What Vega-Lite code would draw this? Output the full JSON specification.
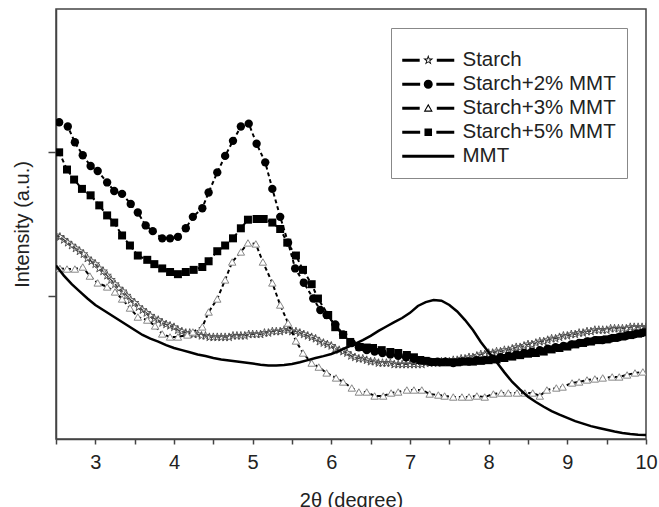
{
  "$schema": "https://vega.github.io/schema/vega-lite/v6.json",
  "width": 590,
  "height": 430,
  "autosize": {"type": "none"},
  "padding": {"left": 56, "top": 9, "right": 13, "bottom": 68},
  "background": "white",
  "config": {
    "view": {"stroke": "#444", "strokeWidth": 1.5},
    "axis": {
      "domainColor": "#444", "domainWidth": 1.5, "tickColor": "#444", "tickWidth": 1.5,
      "labelFont": "Liberation Sans", "labelFontSize": 20, "labelColor": "#222",
      "titleFont": "Liberation Sans", "titleFontSize": 20, "titleFontWeight": "normal", "titleColor": "#222",
      "grid": false
    }
  },
  "datasets": {
    "starch": [
      {"x":2.50,"y":1.42},{"x":2.55,"y":1.41},{"x":2.60,"y":1.39},{"x":2.65,"y":1.37},{"x":2.70,"y":1.35},{"x":2.75,"y":1.33},{"x":2.80,"y":1.31},{"x":2.85,"y":1.29},{"x":2.90,"y":1.26},{"x":2.95,"y":1.24},
      {"x":3.00,"y":1.22},{"x":3.05,"y":1.19},{"x":3.10,"y":1.17},{"x":3.15,"y":1.14},{"x":3.20,"y":1.11},{"x":3.25,"y":1.08},{"x":3.30,"y":1.05},{"x":3.35,"y":1.03},{"x":3.40,"y":1.00},{"x":3.45,"y":0.97},
      {"x":3.50,"y":0.95},{"x":3.55,"y":0.92},{"x":3.60,"y":0.90},{"x":3.65,"y":0.88},{"x":3.70,"y":0.86},{"x":3.75,"y":0.84},{"x":3.80,"y":0.83},{"x":3.85,"y":0.81},{"x":3.90,"y":0.80},{"x":3.95,"y":0.79},
      {"x":4.00,"y":0.78},{"x":4.05,"y":0.76},{"x":4.10,"y":0.75},{"x":4.15,"y":0.74},{"x":4.20,"y":0.74},{"x":4.25,"y":0.73},{"x":4.30,"y":0.73},{"x":4.35,"y":0.72},{"x":4.40,"y":0.72},{"x":4.45,"y":0.71},
      {"x":4.50,"y":0.71},{"x":4.55,"y":0.71},{"x":4.60,"y":0.71},{"x":4.65,"y":0.71},{"x":4.70,"y":0.71},{"x":4.75,"y":0.72},{"x":4.80,"y":0.72},{"x":4.85,"y":0.72},{"x":4.90,"y":0.72},{"x":4.95,"y":0.73},
      {"x":5.00,"y":0.73},{"x":5.05,"y":0.73},{"x":5.10,"y":0.73},{"x":5.15,"y":0.74},{"x":5.20,"y":0.74},{"x":5.25,"y":0.75},{"x":5.30,"y":0.75},{"x":5.35,"y":0.75},{"x":5.40,"y":0.76},{"x":5.45,"y":0.76},
      {"x":5.50,"y":0.75},{"x":5.55,"y":0.75},{"x":5.60,"y":0.74},{"x":5.65,"y":0.73},{"x":5.70,"y":0.72},{"x":5.75,"y":0.71},{"x":5.80,"y":0.70},{"x":5.85,"y":0.68},{"x":5.90,"y":0.67},{"x":5.95,"y":0.66},
      {"x":6.00,"y":0.65},{"x":6.05,"y":0.63},{"x":6.10,"y":0.62},{"x":6.15,"y":0.61},{"x":6.20,"y":0.60},{"x":6.25,"y":0.58},{"x":6.30,"y":0.57},{"x":6.35,"y":0.56},{"x":6.40,"y":0.56},{"x":6.45,"y":0.55},
      {"x":6.50,"y":0.54},{"x":6.55,"y":0.54},{"x":6.60,"y":0.53},{"x":6.65,"y":0.53},{"x":6.70,"y":0.53},{"x":6.75,"y":0.53},{"x":6.80,"y":0.52},{"x":6.85,"y":0.52},{"x":6.90,"y":0.52},{"x":6.95,"y":0.52},
      {"x":7.00,"y":0.52},{"x":7.05,"y":0.52},{"x":7.10,"y":0.52},{"x":7.15,"y":0.52},{"x":7.20,"y":0.53},{"x":7.25,"y":0.53},{"x":7.30,"y":0.53},{"x":7.35,"y":0.53},{"x":7.40,"y":0.54},{"x":7.45,"y":0.54},
      {"x":7.50,"y":0.54},{"x":7.55,"y":0.55},{"x":7.60,"y":0.55},{"x":7.65,"y":0.56},{"x":7.70,"y":0.56},{"x":7.75,"y":0.57},{"x":7.80,"y":0.57},{"x":7.85,"y":0.58},{"x":7.90,"y":0.59},{"x":7.95,"y":0.59},
      {"x":8.00,"y":0.60},{"x":8.05,"y":0.60},{"x":8.10,"y":0.61},{"x":8.15,"y":0.61},{"x":8.20,"y":0.62},{"x":8.25,"y":0.62},{"x":8.30,"y":0.63},{"x":8.35,"y":0.64},{"x":8.40,"y":0.64},{"x":8.45,"y":0.65},
      {"x":8.50,"y":0.66},{"x":8.55,"y":0.66},{"x":8.60,"y":0.67},{"x":8.65,"y":0.68},{"x":8.70,"y":0.68},{"x":8.75,"y":0.69},{"x":8.80,"y":0.70},{"x":8.85,"y":0.70},{"x":8.90,"y":0.71},{"x":8.95,"y":0.72},
      {"x":9.00,"y":0.72},{"x":9.05,"y":0.73},{"x":9.10,"y":0.73},{"x":9.15,"y":0.74},{"x":9.20,"y":0.74},{"x":9.25,"y":0.75},{"x":9.30,"y":0.75},{"x":9.35,"y":0.76},{"x":9.40,"y":0.76},{"x":9.45,"y":0.76},
      {"x":9.50,"y":0.76},{"x":9.55,"y":0.77},{"x":9.60,"y":0.77},{"x":9.65,"y":0.77},{"x":9.70,"y":0.77},{"x":9.75,"y":0.77},{"x":9.80,"y":0.78},{"x":9.85,"y":0.78},{"x":9.90,"y":0.78},{"x":9.95,"y":0.78},
      {"x":10.00,"y":0.78}
    ],
    "mmt2": [
      {"x":2.54,"y":2.21},{"x":2.65,"y":2.18},{"x":2.74,"y":2.07},{"x":2.84,"y":1.98},{"x":2.94,"y":1.905},{"x":3.03,"y":1.87},{"x":3.15,"y":1.79},{"x":3.24,"y":1.73},{"x":3.34,"y":1.71},{"x":3.45,"y":1.64},
      {"x":3.54,"y":1.58},{"x":3.64,"y":1.49},{"x":3.73,"y":1.45},{"x":3.85,"y":1.40},{"x":3.95,"y":1.40},{"x":4.05,"y":1.41},{"x":4.15,"y":1.47},{"x":4.24,"y":1.55},{"x":4.36,"y":1.61},{"x":4.44,"y":1.72},
      {"x":4.55,"y":1.86},{"x":4.65,"y":1.975},{"x":4.75,"y":2.08},{"x":4.85,"y":2.18},{"x":4.95,"y":2.20},{"x":5.05,"y":2.06},{"x":5.16,"y":1.93},{"x":5.25,"y":1.745},{"x":5.35,"y":1.55},{"x":5.45,"y":1.37},
      {"x":5.54,"y":1.19},{"x":5.65,"y":1.09},{"x":5.77,"y":0.98},{"x":5.86,"y":0.90},{"x":5.94,"y":0.865},{"x":6.05,"y":0.80},{"x":6.15,"y":0.73},{"x":6.26,"y":0.67},{"x":6.35,"y":0.64},{"x":6.45,"y":0.62},
      {"x":6.55,"y":0.61},{"x":6.65,"y":0.60},{"x":6.75,"y":0.59},{"x":6.85,"y":0.58},{"x":6.95,"y":0.57},{"x":7.05,"y":0.56},{"x":7.15,"y":0.55},{"x":7.25,"y":0.54},{"x":7.35,"y":0.54},{"x":7.45,"y":0.54},
      {"x":7.55,"y":0.53},{"x":7.65,"y":0.54},{"x":7.75,"y":0.54},{"x":7.85,"y":0.55},{"x":7.95,"y":0.55},{"x":8.05,"y":0.56},{"x":8.15,"y":0.57},{"x":8.25,"y":0.58},{"x":8.35,"y":0.59},{"x":8.45,"y":0.60},
      {"x":8.55,"y":0.61},{"x":8.65,"y":0.62},{"x":8.75,"y":0.63},{"x":8.85,"y":0.64},{"x":8.95,"y":0.65},{"x":9.05,"y":0.66},{"x":9.15,"y":0.67},{"x":9.25,"y":0.68},{"x":9.35,"y":0.69},{"x":9.45,"y":0.69},
      {"x":9.55,"y":0.70},{"x":9.65,"y":0.71},{"x":9.75,"y":0.72},{"x":9.85,"y":0.73},{"x":9.95,"y":0.74}
    ],
    "mmt3": [
      {"x":2.55,"y":1.19},{"x":2.64,"y":1.186},{"x":2.74,"y":1.186},{"x":2.84,"y":1.20},{"x":2.93,"y":1.137},{"x":3.03,"y":1.089},{"x":3.15,"y":1.061},{"x":3.25,"y":1.026},{"x":3.34,"y":0.977},{"x":3.44,"y":0.914},
      {"x":3.54,"y":0.851},{"x":3.66,"y":0.83},{"x":3.76,"y":0.789},{"x":3.85,"y":0.733},{"x":3.95,"y":0.712},{"x":4.05,"y":0.712},{"x":4.17,"y":0.726},{"x":4.24,"y":0.747},{"x":4.36,"y":0.782},{"x":4.44,"y":0.886},
      {"x":4.55,"y":0.977},{"x":4.65,"y":1.11},{"x":4.74,"y":1.235},{"x":4.85,"y":1.305},{"x":4.94,"y":1.368},{"x":5.04,"y":1.361},{"x":5.13,"y":1.235},{"x":5.25,"y":1.089},{"x":5.35,"y":0.935},{"x":5.45,"y":0.809},
      {"x":5.55,"y":0.684},{"x":5.64,"y":0.60},{"x":5.75,"y":0.53},{"x":5.84,"y":0.502},{"x":5.94,"y":0.461},{"x":6.06,"y":0.426},{"x":6.15,"y":0.398},{"x":6.26,"y":0.356},{"x":6.35,"y":0.328},{"x":6.45,"y":0.328},
      {"x":6.55,"y":0.30},{"x":6.66,"y":0.30},{"x":6.76,"y":0.321},{"x":6.85,"y":0.328},{"x":6.96,"y":0.342},{"x":7.05,"y":0.342},{"x":7.15,"y":0.342},{"x":7.25,"y":0.314},{"x":7.36,"y":0.307},{"x":7.44,"y":0.30},
      {"x":7.55,"y":0.293},{"x":7.66,"y":0.293},{"x":7.75,"y":0.293},{"x":7.85,"y":0.30},{"x":7.95,"y":0.293},{"x":8.06,"y":0.314},{"x":8.16,"y":0.321},{"x":8.25,"y":0.321},{"x":8.36,"y":0.321},{"x":8.46,"y":0.321},
      {"x":8.56,"y":0.321},{"x":8.65,"y":0.30},{"x":8.74,"y":0.342},{"x":8.86,"y":0.356},{"x":8.94,"y":0.363},{"x":9.06,"y":0.391},{"x":9.15,"y":0.398},{"x":9.25,"y":0.412},{"x":9.35,"y":0.419},{"x":9.45,"y":0.426},
      {"x":9.57,"y":0.433},{"x":9.66,"y":0.433},{"x":9.76,"y":0.447},{"x":9.86,"y":0.461},{"x":9.96,"y":0.468}
    ],
    "mmt5": [
      {"x":2.54,"y":2.00},{"x":2.64,"y":1.88},{"x":2.73,"y":1.81},{"x":2.83,"y":1.745},{"x":2.94,"y":1.70},{"x":3.05,"y":1.63},{"x":3.15,"y":1.56},{"x":3.24,"y":1.51},{"x":3.34,"y":1.42},{"x":3.44,"y":1.35},
      {"x":3.54,"y":1.28},{"x":3.66,"y":1.25},{"x":3.75,"y":1.22},{"x":3.85,"y":1.19},{"x":3.95,"y":1.165},{"x":4.05,"y":1.15},{"x":4.15,"y":1.165},{"x":4.25,"y":1.18},{"x":4.36,"y":1.20},{"x":4.44,"y":1.24},
      {"x":4.55,"y":1.31},{"x":4.65,"y":1.35},{"x":4.75,"y":1.40},{"x":4.85,"y":1.47},{"x":4.94,"y":1.53},{"x":5.05,"y":1.535},{"x":5.14,"y":1.535},{"x":5.25,"y":1.51},{"x":5.35,"y":1.465},{"x":5.44,"y":1.37},
      {"x":5.55,"y":1.28},{"x":5.64,"y":1.18},{"x":5.75,"y":1.08},{"x":5.83,"y":0.98},{"x":5.96,"y":0.865},{"x":6.05,"y":0.78},{"x":6.15,"y":0.726},{"x":6.24,"y":0.677},{"x":6.36,"y":0.642},{"x":6.45,"y":0.638},
      {"x":6.53,"y":0.635},{"x":6.64,"y":0.62},{"x":6.75,"y":0.607},{"x":6.85,"y":0.60},{"x":6.96,"y":0.586},{"x":7.05,"y":0.57},{"x":7.13,"y":0.551},{"x":7.20,"y":0.545},{"x":7.29,"y":0.537},{"x":7.40,"y":0.535},
      {"x":7.50,"y":0.535},{"x":7.60,"y":0.535},{"x":7.70,"y":0.54},{"x":7.80,"y":0.54},{"x":7.90,"y":0.545},{"x":8.00,"y":0.55},{"x":8.10,"y":0.555},{"x":8.20,"y":0.565},{"x":8.30,"y":0.575},{"x":8.40,"y":0.585},
      {"x":8.50,"y":0.595},{"x":8.60,"y":0.60},{"x":8.70,"y":0.61},{"x":8.80,"y":0.625},{"x":8.90,"y":0.635},{"x":9.00,"y":0.645},{"x":9.10,"y":0.66},{"x":9.20,"y":0.67},{"x":9.30,"y":0.68},{"x":9.40,"y":0.69},
      {"x":9.50,"y":0.695},{"x":9.60,"y":0.705},{"x":9.70,"y":0.715},{"x":9.80,"y":0.725},{"x":9.90,"y":0.735},{"x":10.00,"y":0.745}
    ],
    "mmt": [
      {"x":2.5,"y":1.21},{"x":2.6,"y":1.14},{"x":2.7,"y":1.08},{"x":2.8,"y":1.03},{"x":2.9,"y":0.98},{"x":3.0,"y":0.935},{"x":3.1,"y":0.90},{"x":3.2,"y":0.865},{"x":3.3,"y":0.83},{"x":3.4,"y":0.795},
      {"x":3.5,"y":0.76},{"x":3.6,"y":0.726},{"x":3.7,"y":0.70},{"x":3.8,"y":0.68},{"x":3.9,"y":0.655},{"x":4.0,"y":0.635},{"x":4.1,"y":0.62},{"x":4.2,"y":0.605},{"x":4.3,"y":0.59},{"x":4.4,"y":0.579},
      {"x":4.5,"y":0.565},{"x":4.6,"y":0.555},{"x":4.7,"y":0.547},{"x":4.8,"y":0.54},{"x":4.9,"y":0.533},{"x":5.0,"y":0.526},{"x":5.1,"y":0.518},{"x":5.2,"y":0.512},{"x":5.3,"y":0.512},{"x":5.4,"y":0.516},
      {"x":5.5,"y":0.523},{"x":5.6,"y":0.535},{"x":5.7,"y":0.55},{"x":5.8,"y":0.565},{"x":5.9,"y":0.578},{"x":6.0,"y":0.593},{"x":6.1,"y":0.615},{"x":6.2,"y":0.64},{"x":6.3,"y":0.663},{"x":6.4,"y":0.69},
      {"x":6.5,"y":0.72},{"x":6.6,"y":0.754},{"x":6.7,"y":0.785},{"x":6.8,"y":0.815},{"x":6.9,"y":0.844},{"x":7.0,"y":0.88},{"x":7.1,"y":0.928},{"x":7.2,"y":0.955},{"x":7.3,"y":0.97},{"x":7.4,"y":0.965},
      {"x":7.5,"y":0.935},{"x":7.6,"y":0.89},{"x":7.7,"y":0.83},{"x":7.8,"y":0.76},{"x":7.9,"y":0.677},{"x":8.0,"y":0.605},{"x":8.1,"y":0.537},{"x":8.2,"y":0.465},{"x":8.3,"y":0.398},{"x":8.4,"y":0.345},
      {"x":8.5,"y":0.295},{"x":8.6,"y":0.258},{"x":8.7,"y":0.225},{"x":8.8,"y":0.195},{"x":8.9,"y":0.17},{"x":9.0,"y":0.147},{"x":9.1,"y":0.125},{"x":9.2,"y":0.107},{"x":9.3,"y":0.09},{"x":9.4,"y":0.077},
      {"x":9.5,"y":0.065},{"x":9.6,"y":0.052},{"x":9.7,"y":0.042},{"x":9.8,"y":0.035},{"x":9.9,"y":0.03},{"x":10.0,"y":0.028}
    ],
    "leg": [
      {"s":"Starch"},{"s":"Starch+2% MMT"},{"s":"Starch+3% MMT"},{"s":"Starch+5% MMT"},{"s":"MMT"}
    ]
  },
  "encoding": {
    "x": {"field": "x", "type": "quantitative", "scale": {"domain": [2.5, 10], "nice": false, "zero": false},
      "axis": {"title": "2θ (degree)", "values": [2.5,3,3.5,4,4.5,5,5.5,6,6.5,7,7.5,8,8.5,9,9.5,10],
        "labelExpr": "datum.value % 1 === 0 ? format(datum.value, 'd') : ''", "labelFlush": false, "labelOverlap": false,
        "tickSize": 5, "labelPadding": 8, "titlePadding": 18}},
    "y": {"field": "y", "type": "quantitative", "scale": {"domain": [0, 3], "nice": false, "zero": false},
      "axis": {"title": "Intensity (a.u.)", "values": [1, 2], "labels": false, "tickSize": 8, "titlePadding": 15}}
  },
  "layer": [
    {"data": {"name": "starch"}, "mark": {"type": "line", "color": "#333", "strokeWidth": 1.2, "strokeDash": [4, 3], "clip": true}},
    {"data": {"name": "starch"}, "mark": {"type": "point", "shape": "M0,-1L0.225,-0.309L0.951,-0.309L0.363,0.118L0.588,0.809L0,0.382L-0.588,0.809L-0.363,0.118L-0.951,-0.309L-0.225,-0.309Z", "size": 75, "filled": false, "stroke": "#4a4a4a", "strokeWidth": 0.9, "opacity": 1, "clip": true}},
    {"data": {"name": "mmt3"}, "mark": {"type": "line", "color": "black", "strokeWidth": 2, "strokeDash": [4, 3], "clip": true}},
    {"data": {"name": "mmt3"}, "mark": {"type": "point", "shape": "triangle-up", "size": 55, "filled": true, "fill": "white", "stroke": "#888", "strokeWidth": 1, "opacity": 1, "clip": true}},
    {"data": {"name": "mmt2"}, "mark": {"type": "line", "color": "black", "strokeWidth": 2, "strokeDash": [4, 3], "clip": true}},
    {"data": {"name": "mmt2"}, "mark": {"type": "point", "shape": "circle", "size": 70, "filled": true, "color": "black", "opacity": 1, "clip": true}},
    {"data": {"name": "mmt5"}, "mark": {"type": "line", "color": "black", "strokeWidth": 2, "strokeDash": [4, 3], "clip": true}},
    {"data": {"name": "mmt5"}, "mark": {"type": "point", "shape": "square", "size": 64, "filled": true, "color": "black", "opacity": 1, "clip": true}},
    {"data": {"name": "mmt"}, "mark": {"type": "line", "color": "black", "strokeWidth": 2.5, "clip": true}},
    {
      "data": {"name": "leg"},
      "mark": {"type": "point", "opacity": 0, "strokeWidth": 0},
      "encoding": {
        "x": null, "y": null,
        "shape": {"field": "s", "type": "nominal", "title": " ",
          "scale": {"domain": ["Starch", "Starch+2% MMT", "Starch+3% MMT", "Starch+5% MMT", "MMT"],
            "range": [
              "M-2.89,-0.16H-0.95V0.16H-2.89ZM0.95,-0.16H2.89V0.16H0.95ZM0,-0.6L0.135,-0.185L0.571,-0.185L0.218,0.071L0.353,0.485L0,0.229L-0.353,0.485L-0.218,0.071L-0.571,-0.185L-0.135,-0.185ZM0,-0.3L-0.068,-0.093L-0.285,-0.093L-0.109,0.035L-0.176,0.243L0,0.115L0.176,0.243L0.109,0.035L0.285,-0.093L0.068,-0.093Z",
              "M-2.89,-0.16H-0.9V0.16H-2.89ZM0.9,-0.16H2.89V0.16H0.9ZM-0.5,0A0.5,0.5 0 1,0 0.5,0A0.5,0.5 0 1,0 -0.5,0Z",
              "M-2.89,-0.16H-0.95V0.16H-2.89ZM0.95,-0.16H2.89V0.16H0.95ZM0,-0.5L0.5,0.38L-0.5,0.38ZM0,-0.259L-0.295,0.26L0.295,0.26Z",
              "M-2.89,-0.16H-0.9V0.16H-2.89ZM0.9,-0.16H2.89V0.16H0.9ZM-0.42,-0.42H0.42V0.42H-0.42Z",
              "M-2.89,-0.16H2.89V0.16H-2.89Z"
            ]},
          "legend": {"orient": "top-right", "offset": 19, "padding": 11, "strokeColor": "#888", "fillColor": "white",
            "titleFontSize": 6, "titlePadding": 5,
            "labelFont": "Liberation Sans", "labelFontSize": 20.5, "labelColor": "#222", "labelOffset": 24, "labelLimit": 400,
            "rowPadding": 3, "symbolSize": 324, "symbolOffset": 16, "symbolStrokeWidth": 0, "symbolOpacity": 1}},
        "fill": {"field": "s", "type": "nominal", "title": " ",
          "scale": {"domain": ["Starch", "Starch+2% MMT", "Starch+3% MMT", "Starch+5% MMT", "MMT"],
            "range": ["black", "black", "black", "black", "black"]}}
      }
    }
  ]
}
